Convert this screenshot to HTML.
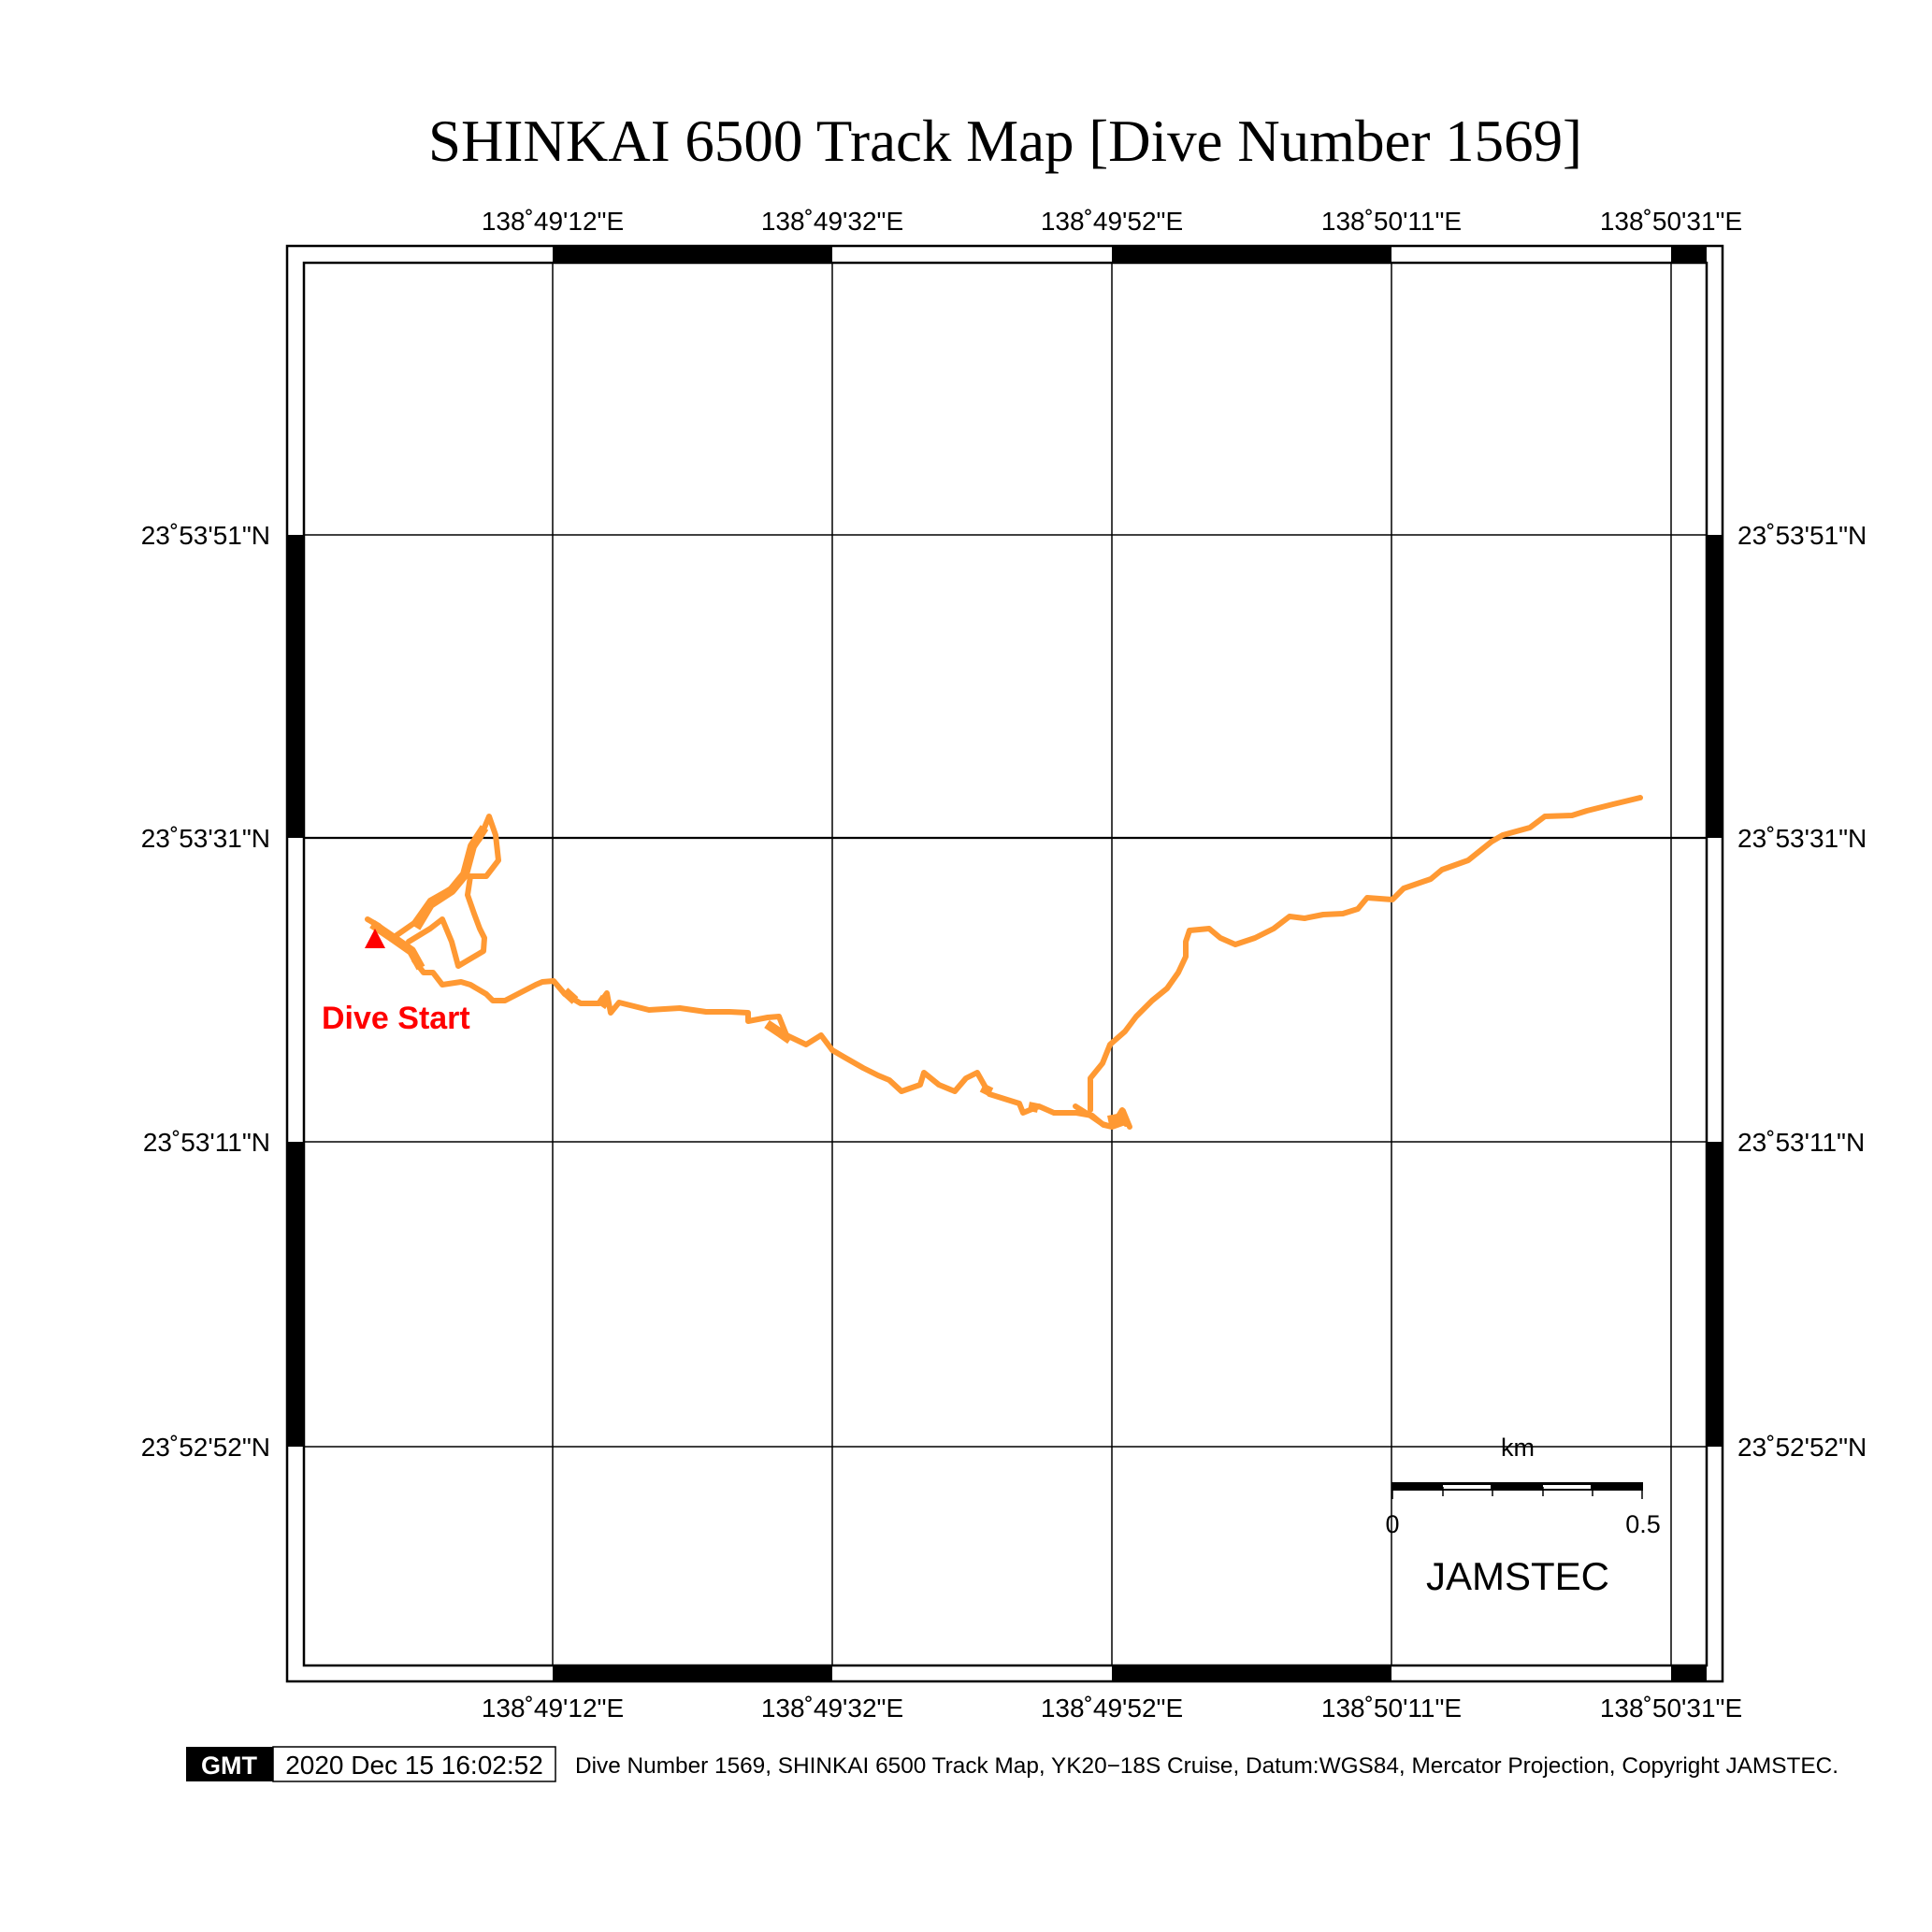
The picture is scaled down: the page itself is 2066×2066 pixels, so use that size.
<!DOCTYPE html>
<html><head><meta charset="utf-8"><style>html,body{margin:0;padding:0;background:#fff}svg{display:block}</style></head>
<body>
<svg width="2066" height="2066" viewBox="0 0 2066 2066" xmlns="http://www.w3.org/2000/svg" font-family="Liberation Sans, sans-serif">
<rect width="2066" height="2066" fill="#fff"/>
<text x="1075" y="172" font-family="Liberation Serif, serif" font-size="63" text-anchor="middle" textLength="1234" lengthAdjust="spacingAndGlyphs">SHINKAI 6500 Track Map [Dive Number 1569]</text>
<g stroke="#000" stroke-width="1.5">
<line x1="591" y1="281" x2="591" y2="1781"/><line x1="890" y1="281" x2="890" y2="1781"/><line x1="1189" y1="281" x2="1189" y2="1781"/><line x1="1488" y1="281" x2="1488" y2="1781"/><line x1="1787" y1="281" x2="1787" y2="1781"/>
<line x1="325" y1="572" x2="1825" y2="572"/><line x1="325" y1="896" x2="1825" y2="896" stroke-width="2.2"/><line x1="325" y1="1221" x2="1825" y2="1221"/><line x1="325" y1="1547" x2="1825" y2="1547"/>
</g>
<g fill="#000">
<rect x="591" y="263" width="299" height="18"/><rect x="1189" y="263" width="299" height="18"/><rect x="1787" y="263" width="38" height="18"/>
<rect x="591" y="1781" width="299" height="17"/><rect x="1189" y="1781" width="299" height="17"/><rect x="1787" y="1781" width="38" height="17"/>
<rect x="307" y="572" width="18" height="324"/><rect x="307" y="1221" width="18" height="326"/>
<rect x="1825" y="572" width="17" height="324"/><rect x="1825" y="1221" width="17" height="326"/>
</g>
<g fill="none" stroke="#000" stroke-width="2.5">
<rect x="307" y="263" width="1535" height="1535"/>
<rect x="325" y="281" width="1500" height="1500"/>
</g>
<g font-size="28">
<g text-anchor="middle">
<text x="591" y="246">138˚49'12"E</text><text x="890" y="246">138˚49'32"E</text><text x="1189" y="246">138˚49'52"E</text><text x="1488" y="246">138˚50'11"E</text><text x="1787" y="246">138˚50'31"E</text>
<text x="591" y="1836">138˚49'12"E</text><text x="890" y="1836">138˚49'32"E</text><text x="1189" y="1836">138˚49'52"E</text><text x="1488" y="1836">138˚50'11"E</text><text x="1787" y="1836">138˚50'31"E</text>
</g>
<g text-anchor="end">
<text x="289" y="582">23˚53'51"N</text><text x="289" y="906">23˚53'31"N</text><text x="289" y="1231">23˚53'11"N</text><text x="289" y="1557">23˚52'52"N</text>
</g>
<text x="1858" y="582">23˚53'51"N</text><text x="1858" y="906">23˚53'31"N</text><text x="1858" y="1231">23˚53'11"N</text><text x="1858" y="1557">23˚52'52"N</text>
</g>
<g fill="none" stroke="#ff9933" stroke-width="6" stroke-linejoin="round" stroke-linecap="round">
<polyline points="393,983 405,990 420,1003 440,1017 443,1027 453,1040 463,1040 473,1053 493,1050 503,1053 520,1063 527,1070 540,1070 573,1053 580,1050 592,1049 604,1063 621,1073 641,1073 649,1062 653,1083 662,1072 694,1080 727,1078 755,1082 780,1082 800,1083 800,1092 821,1088 833,1087 841,1107 862,1117 878,1107 890,1123 902,1130 923,1142 939,1150 951,1155 964,1167 984,1160 988,1147 1004,1160 1021,1167 1033,1153 1045,1147 1058,1170 1090,1180 1094,1190 1111,1183 1127,1190 1151,1190 1168,1193 1180,1203 1189,1205 1192,1200 1200,1187 1204,1202"/>
<polyline points="1150,1183 1166,1193 1179,1202 1189,1205 1203,1200 1201,1188 1208,1205"/>
<polyline points="1166,1187 1166,1153 1179,1137 1187,1117 1203,1103 1215,1087 1232,1070 1248,1057 1260,1040 1268,1023 1268,1007 1272,995 1293,993 1305,1003 1321,1010 1342,1003 1362,993 1379,980 1395,982 1415,978 1436,977 1452,972 1462,960 1489,962 1501,950 1530,940 1542,930 1570,920 1595,900 1607,893 1636,885 1652,873 1681,872 1697,867 1725,860 1754,853"/>
<polyline points="420,1003 443,987 460,963 483,950 497,937 503,910 513,897 523,873 530,893 533,920 520,937 503,937 500,957 507,977 513,993 518,1003 517,1017 490,1033 483,1007 473,983 460,993 437,1007"/>
</g>
<g fill="none" stroke="#ff9933" stroke-width="10" stroke-linejoin="round">
<polyline points="398,988 420,1003 440,1017 450,1035"/>
<polyline points="445,992 460,967 483,952 497,935 505,905 518,885"/>
<polyline points="604,1060 615,1070"/><polyline points="640,1068 650,1075"/><polyline points="820,1095 835,1105 845,1112"/><polyline points="1050,1163 1060,1168"/><polyline points="1100,1183 1110,1185"/><polyline points="1185,1198 1200,1195"/>
</g>
<polygon points="401,993 390,1014 412,1014" fill="#ff0000"/>
<text x="344" y="1100" font-size="34" font-weight="bold" fill="#ff0000">Dive Start</text>
<rect x="1488" y="1585" width="269" height="9" fill="#000"/>
<rect x="1543" y="1588" width="51" height="4" fill="#fff"/><rect x="1650" y="1588" width="51" height="4" fill="#fff"/>
<g stroke="#000" stroke-width="1.5"><line x1="1489" y1="1585" x2="1489" y2="1603"/><line x1="1543" y1="1590" x2="1543" y2="1600"/><line x1="1596" y1="1590" x2="1596" y2="1600"/><line x1="1650" y1="1590" x2="1650" y2="1600"/><line x1="1703" y1="1590" x2="1703" y2="1600"/><line x1="1756" y1="1585" x2="1756" y2="1603"/></g>
<text x="1623" y="1557" font-size="27" text-anchor="middle">km</text>
<text x="1489" y="1639" font-size="27" text-anchor="middle">0</text>
<text x="1757" y="1639" font-size="27" text-anchor="middle">0.5</text>
<text x="1623" y="1700" font-size="42" text-anchor="middle">JAMSTEC</text>
<rect x="199" y="1868" width="93" height="37" fill="#000"/>
<text x="245" y="1897" font-size="27" font-weight="bold" fill="#fff" text-anchor="middle">GMT</text>
<rect x="292" y="1868" width="302" height="37" fill="none" stroke="#000" stroke-width="1.5"/>
<text x="443" y="1897" font-size="28" text-anchor="middle">2020 Dec 15 16:02:52</text>
<text x="615" y="1896" font-size="24" textLength="1351" lengthAdjust="spacingAndGlyphs">Dive Number 1569, SHINKAI 6500 Track Map, YK20−18S Cruise, Datum:WGS84, Mercator Projection, Copyright JAMSTEC.</text>
</svg>
</body></html>
